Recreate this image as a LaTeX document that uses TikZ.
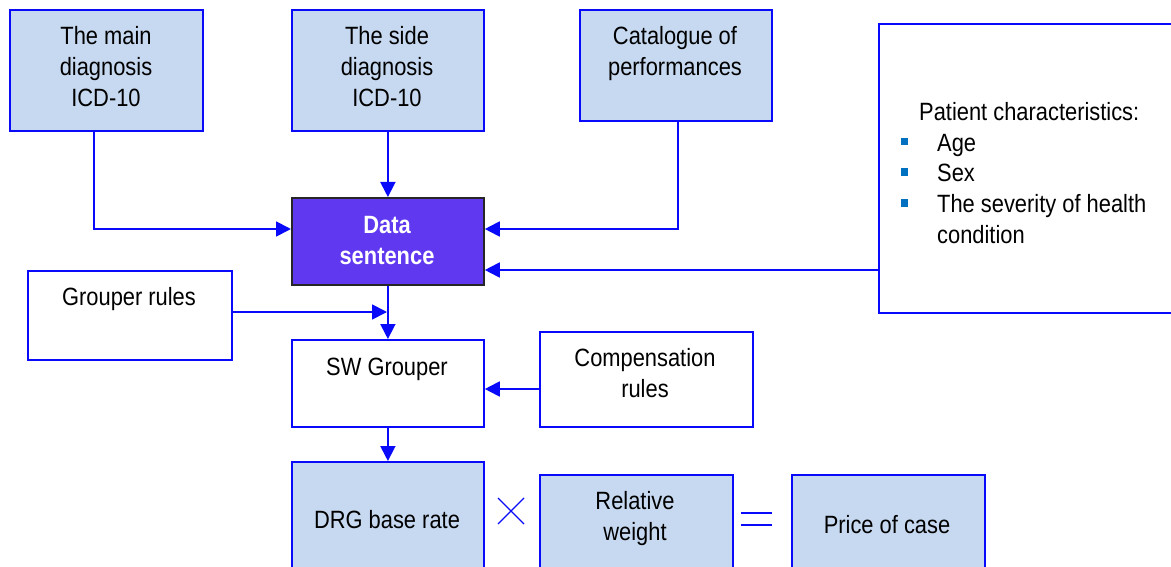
\documentclass[tikz,border=0pt]{standalone}
\usepackage{fontspec}
\setmainfont{Liberation Sans}[FakeStretch=0.875]
\usetikzlibrary{arrows.meta}
\definecolor{lineblue}{RGB}{10,10,250}
\definecolor{fillblue}{RGB}{198,217,240}
\definecolor{datapurple}{RGB}{96,56,240}
\definecolor{bulletblue}{RGB}{0,112,192}
\tikzset{
  box/.style={draw=lineblue, line width=1.8pt, anchor=north west, inner sep=0pt},
  bluebox/.style={box, fill=fillblue},
  whitebox/.style={box, fill=white},
  txt/.style={font=\fontsize{25}{31}\selectfont, align=center, inner sep=0pt, text=black},
  conn/.style={draw=lineblue, line width=1.8pt, -{Triangle[length=15pt,width=15pt]}},
  plain/.style={draw=lineblue, line width=1.8pt}
}
\begin{document}
\begin{tikzpicture}[x=1pt,y=-1pt]
\useasboundingbox (0,0) rectangle (1171,567);
\clip (0,0) rectangle (1171,567);
% boxes
\node[bluebox, minimum width=193pt, minimum height=121pt] (main) at (9,9) {};
\node[bluebox, minimum width=192pt, minimum height=121pt] (side) at (291,9) {};
\node[bluebox, minimum width=192pt, minimum height=111pt] (cat) at (579,9) {};
\node[whitebox, minimum width=320pt, minimum height=289pt] (pat) at (878,23) {};
\node[box, draw=black!85, fill=datapurple, minimum width=192pt, minimum height=87pt] (data) at (291,197) {};
\node[whitebox, minimum width=204pt, minimum height=89pt] (grp) at (27,270) {};
\node[whitebox, minimum width=192pt, minimum height=87pt] (sw) at (291,339) {};
\node[whitebox, minimum width=213pt, minimum height=95pt] (comp) at (539,331) {};
\node[bluebox, minimum width=192pt, minimum height=130pt] (drg) at (291,461) {};
\node[bluebox, minimum width=193pt, minimum height=120pt] (rel) at (539,474) {};
\node[bluebox, minimum width=193pt, minimum height=120pt] (price) at (791,474) {};
% texts (anchor=base is the baseline of the last line)
\node[txt, anchor=base] (tmain) at (106,107) {The main\\diagnosis\\ICD-10};
\node[txt, anchor=base] (tside) at (387,107) {The side\\diagnosis\\ICD-10};
\node[txt, anchor=base] (tcat) at (675,76) {Catalogue of\\performances};
\node[txt, anchor=base, text=white, font=\fontsize{25}{31}\selectfont\bfseries] (tdata) at (387,264) {Data\\sentence};
\node[txt, anchor=base] (tgrp) at (129,305) {Grouper rules};
\node[txt, anchor=base] (tsw) at (387,375) {SW Grouper};
\node[txt, anchor=base] (tcomp) at (645,397) {Compensation\\rules};
\node[txt, anchor=base] (tdrg) at (387,528) {DRG base rate};
\node[txt, anchor=base] (trel) at (635,540) {Relative\\weight};
\node[txt, anchor=base] (tprice) at (887,533) {Price of case};
\node[txt, anchor=base west] (tpat) at (919,121) {Patient characteristics:};
\node[txt, anchor=base west] (tage) at (937,151.5) {Age};
\node[txt, anchor=base west] (tsex) at (937,182) {Sex};
\node[txt, anchor=base west] (tsev) at (937,213) {The severity of health};
\node[txt, anchor=base west] (tcond) at (937,243.5) {condition};
\foreach \yy in {142,172.5,203.5} \fill[bulletblue] (900.5,\yy-4) rectangle ++(7.5,7.5);
% operators
\draw[plain, line width=1.3pt] (498,498) -- (524,524) (498,524) -- (524,498);
\draw[plain, line width=1.8pt] (741,513) -- (772,513) (741,525) -- (772,525);
% connectors
\draw[conn] (main.south -| 94,0) |- (data.west |- 0,229);
\draw[conn] (side.south) -- (data.north);
\draw[conn] (cat.south -| 678,0) |- (data.east |- 0,229);
\draw[conn] (pat.west |- 0,270) -- (data.east |- 0,270);
\coordinate (junc) at (387,312);
\draw[conn] (grp.east |- junc) -- (junc);
\draw[conn] (data.south) -- (sw.north);
\draw[conn] (comp.west |- 0,389) -- (sw.east |- 0,389);
\draw[conn] (sw.south) -- (drg.north);
\end{tikzpicture}
\end{document}
